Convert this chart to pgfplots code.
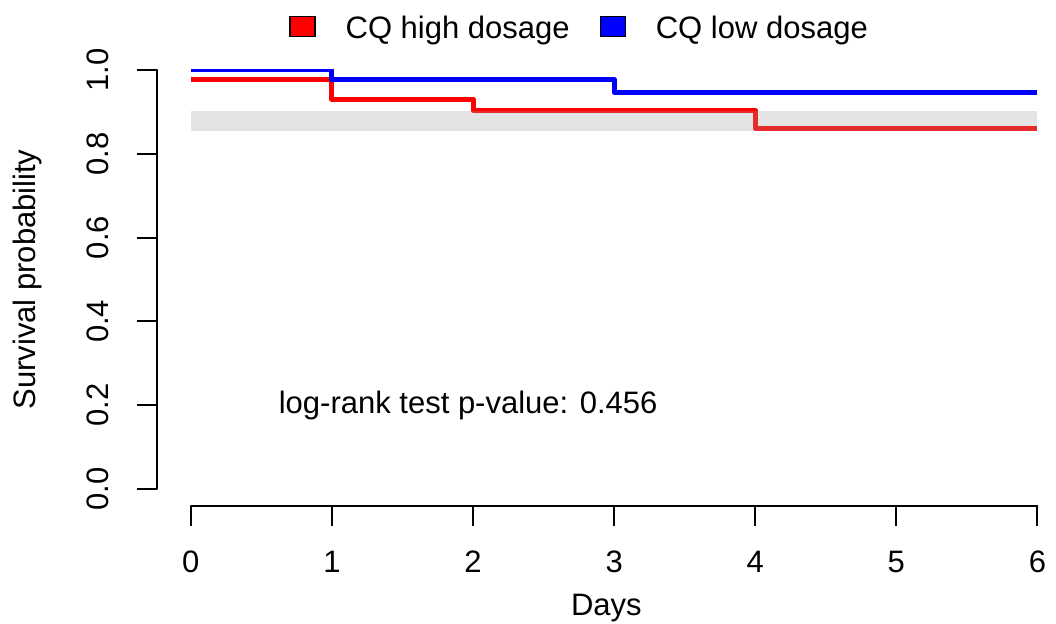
\documentclass[border=0pt]{standalone}
\usepackage{fontspec}
\setmainfont{Liberation Sans}
\usepackage{pgfplots}
\pgfplotsset{compat=1.18}
\begin{document}
\fontsize{15.5}{18}\selectfont
\begin{tikzpicture}
\path[use as bounding box] (0,0) rectangle (528pt,311.5pt);
\begin{axis}[
  at={(78.5pt,58.65pt)}, anchor=south west,
  scale only axis, width=449.4pt, height=217.9pt,
  xmin=-0.24, xmax=6.13, ymin=-0.04, ymax=1.0,
  axis x line*=bottom, axis y line*=left,
  axis line style={draw=none},
  tick align=outside, major tick length=10pt,
  tick style={line width=1pt, black},
  xtick={0,1,2,3,4,5,6}, xticklabels={0,1,2,3,4,5,6},
  ytick={0,0.2,0.4,0.6,0.8,1.0}, yticklabels={0.0,0.2,0.4,0.6,0.8,1.0},
  tick label style={font=\fontsize{15.5}{18}\selectfont},
  xticklabel style={yshift=-12.5pt, anchor=north, inner sep=0pt},
  yticklabel style={xshift=-14pt, rotate=90, anchor=south, inner sep=0pt},
  xlabel={Days}, ylabel={Survival probability},
  label style={font=\fontsize{15.5}{18}\selectfont},
  xlabel style={at={(axis description cs:0.5,-0.2508)}, anchor=base, inner sep=0pt},
  ylabel style={at={(axis description cs:-0.1357,0.519)}, anchor=base, rotate=0, inner sep=0pt},
  legend style={draw=none, fill=none, at={(axis description cs:0.1469,1.0935)}, anchor=west,
    legend columns=2, inner sep=0pt, column sep=15pt,
    nodes={inner sep=0pt, anchor=west},
    font=\fontsize{15.5}{18}\selectfont},
  legend cell align=left,
]
\addlegendimage{legend image code/.code={\draw[fill=red,draw=black,line width=0.6pt] (0pt,-3.5pt) rectangle (12.5pt,6.5pt);}}
\addlegendentry{CQ high dosage}
\addlegendimage{legend image code/.code={\draw[fill=blue,draw=black,line width=0.6pt] (0pt,-3.5pt) rectangle (12.5pt,6.5pt);}}
\addlegendentry{CQ low dosage}
\addplot[const plot, color=red, line width=2.5pt, line join=round, forget plot] coordinates {
  (0,0.976) (1,0.930) (2,0.903) (4,0.861) (6,0.861)};
\addplot[const plot, color=blue, line width=2.5pt, line join=round, forget plot] coordinates {
  (0,1.0) (1,0.977) (3,0.947) (6,0.947)};
\addplot[fill=gray!75, fill opacity=0.28, draw=none, forget plot] coordinates {
  (0,0.855) (6,0.855) (6,0.901) (0,0.901)} -- cycle;
\node[anchor=base, inner sep=0pt, font=\fontsize{15.5}{18}\selectfont] at (axis cs:1.965,0.181) {log-rank test p-value: 0.456};
\coordinate (xa) at (axis cs:0,-0.04);
\coordinate (xb) at (axis cs:6,-0.04);
\coordinate (ya) at (axis cs:-0.24,0);
\coordinate (yb) at (axis cs:-0.24,1);
\end{axis}
\draw[line width=1pt, line cap=round] (xa) -- (xb);
\draw[line width=1pt, line cap=round] (ya) -- (yb);
\end{tikzpicture}
\end{document}
